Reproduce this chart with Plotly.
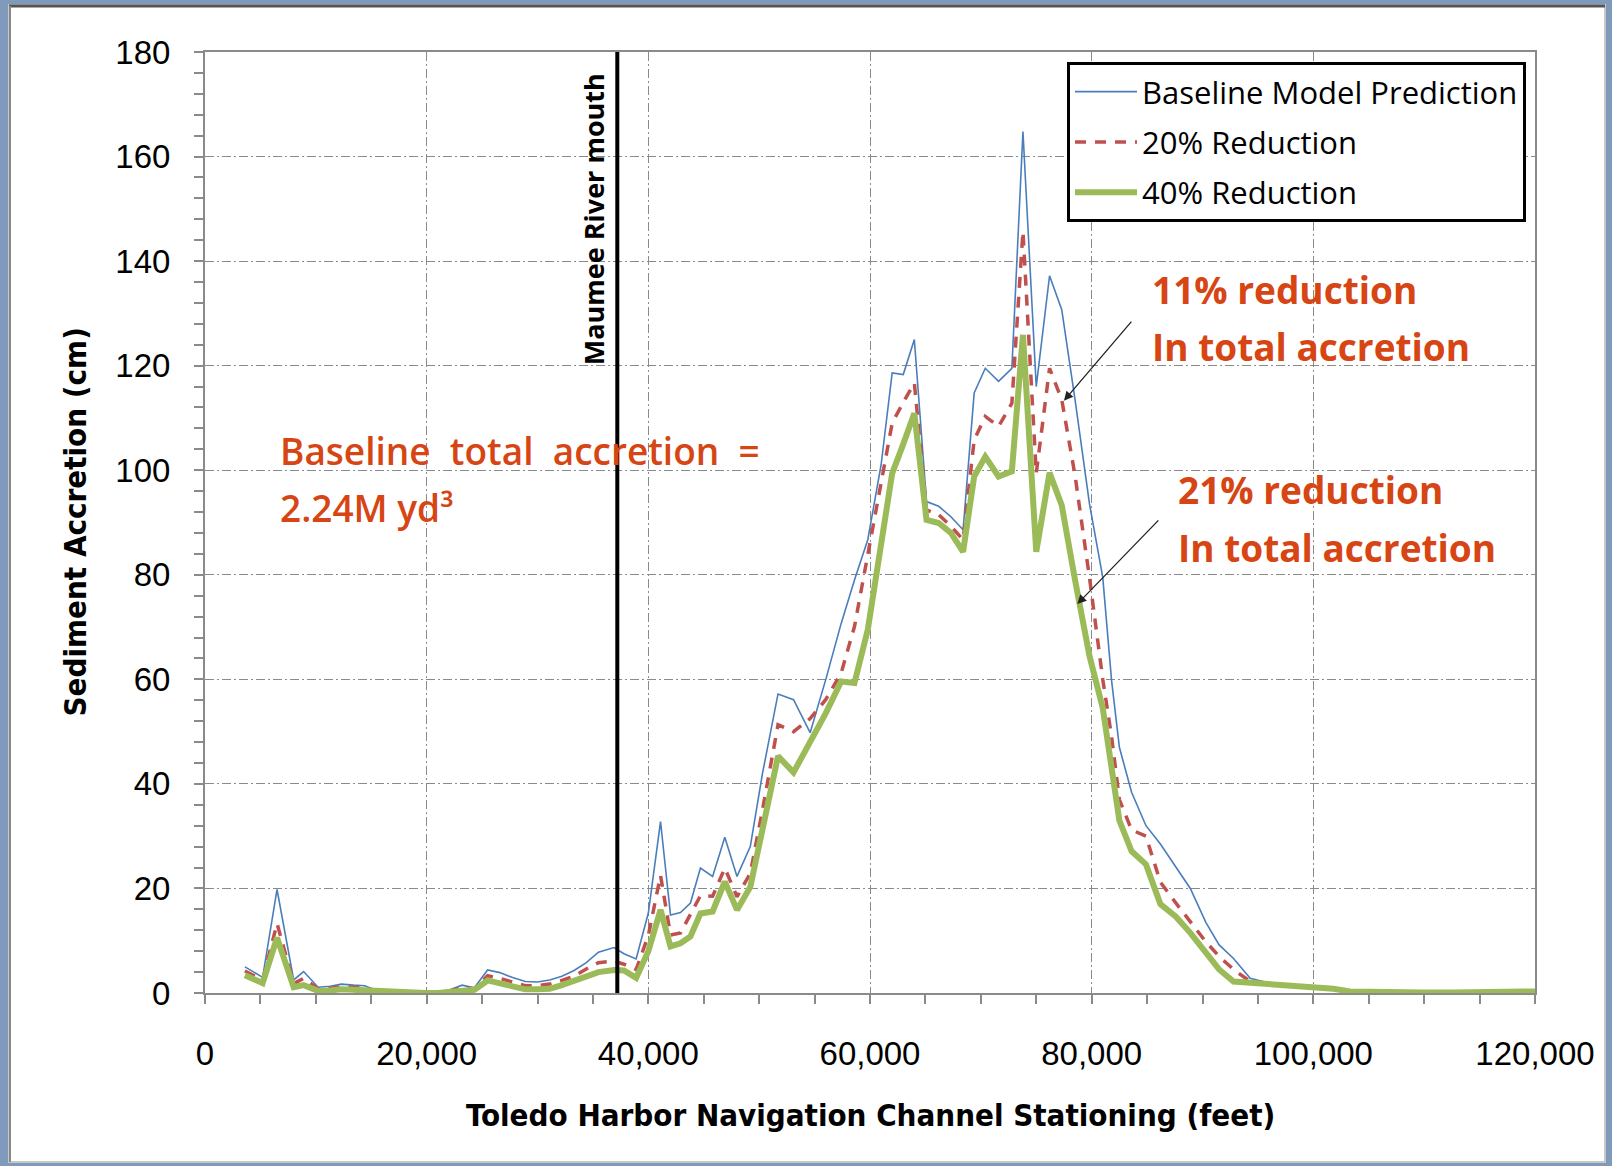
import plotly.graph_objects as go

# ---------------- data ----------------
station_kft = [3.6, 5.2, 6.5, 8.0, 8.9, 10.2, 11.3, 12.3, 13.4, 14.4, 15.5, 16.6, 17.7, 18.8, 19.9,
               21.0, 22.1, 23.2, 24.3, 25.5, 26.6, 27.7, 28.9, 30.0, 31.1, 32.2, 33.3, 34.4, 35.5,
               36.9, 37.8, 38.9, 40.0, 41.1, 42.0, 42.9, 43.8, 44.7, 45.8, 46.9, 48.0, 49.2, 50.3,
               51.7, 53.1, 54.6, 56.0, 57.4, 58.6, 59.8, 61.0, 62.0, 63.0, 64.0, 65.1, 66.2, 67.3,
               68.4, 69.4, 70.4, 71.6, 72.8, 73.8, 75.0, 76.2, 77.3, 78.5, 79.8, 81.0, 81.8, 82.5,
               83.6, 84.9, 86.2, 87.6, 88.9, 90.3, 91.5, 92.8, 94.3, 95.8, 97.3, 98.8, 100.3, 101.8,
               103.3, 105.0, 107.5, 110.0, 112.5, 115.0, 117.5, 120.0]
stationing = [v * 1000 for v in station_kft]

baseline = [5.0, 3.0, 19.8, 2.5, 4.1, 1.1, 1.3, 1.7, 1.5, 1.4, 0.5, 0.5, 0.5, 0.2, 0.0,
            0.1, 0.6, 1.5, 1.0, 4.4, 3.9, 3.0, 2.2, 2.1, 2.5, 3.2, 4.3, 5.8, 7.8,
            8.7, 7.5, 6.5, 15.3, 32.8, 14.9, 15.4, 17.2, 23.9, 22.3, 29.8, 22.3, 28.0, 42.0,
            57.2, 56.1, 49.8, 59.9, 70.7, 79.0, 86.7, 101.0, 118.6, 118.3, 125.0, 94.0, 93.1, 91.1,
            88.6, 114.8, 119.5, 117.0, 119.5, 164.8, 116.0, 137.2, 130.7, 113.5, 93.6, 79.5, 59.7, 47.0,
            38.4, 32.0, 28.5, 24.2, 20.0, 13.5, 9.2, 6.6, 2.8, 2.0, 1.6, 1.2, 1.0, 0.9,
            0.4, 0.3, 0.2, 0.2, 0.1, 0.3, 0.2, 0.4]

reduction20 = [4.2, 2.5, 13.3, 1.8, 2.8, 0.8, 0.9, 1.2, 1.1, 1.0, 0.4, 0.4, 0.3, 0.1, 0.0,
               0.1, 0.4, 1.0, 0.8, 3.3, 2.8, 2.1, 1.4, 1.4, 1.7, 2.4, 3.2, 4.6, 5.8,
               6.1, 5.5, 4.5, 11.0, 22.5, 11.1, 11.5, 15.0, 18.6, 18.5, 23.9, 18.4, 22.9, 35.0,
               51.3, 50.0, 52.5, 56.1, 61.2, 70.1, 84.1, 98.0, 109.0, 113.0, 116.7, 92.4, 91.5, 89.3,
               86.7, 105.8, 110.3, 108.4, 112.8, 145.7, 99.4, 119.5, 113.5, 99.0, 79.5, 60.0, 49.0, 37.0,
               31.2, 30.0, 21.2, 17.2, 13.6, 9.8, 7.0, 4.5, 2.2, 1.9, 1.5, 1.2, 1.0, 0.8,
               0.3, 0.2, 0.2, 0.1, 0.1, 0.2, 0.2, 0.3]

reduction40 = [3.4, 1.9, 10.6, 1.1, 1.5, 0.4, 0.5, 0.7, 0.6, 0.5, 0.2, 0.2, 0.2, 0.1, 0.0,
               0.0, 0.2, 0.6, 0.6, 2.4, 1.8, 1.3, 0.7, 0.7, 0.8, 1.5, 2.4, 3.2, 4.0,
               4.4, 4.3, 2.9, 8.0, 15.9, 8.9, 9.5, 10.8, 15.2, 15.6, 21.3, 15.9, 20.3, 31.0,
               45.3, 42.2, 47.8, 53.5, 59.6, 59.3, 69.5, 86.7, 99.4, 105.0, 110.9, 90.5, 89.9, 88.0,
               84.4, 98.8, 102.6, 98.8, 99.8, 125.9, 84.4, 99.5, 93.3, 79.0, 64.5, 54.5, 42.0, 33.0,
               27.1, 24.6, 17.0, 14.6, 11.5, 7.8, 4.5, 2.2, 2.0, 1.8, 1.5, 1.2, 1.0, 0.8,
               0.3, 0.2, 0.2, 0.1, 0.1, 0.2, 0.2, 0.3]

series_names = ["Baseline Model Prediction", "20% Reduction", "40% Reduction"]
x_tick_vals = [0, 20000, 40000, 60000, 80000, 100000, 120000]
x_tick_text = ["0", "20,000", "40,000", "60,000", "80,000", "100,000", "120,000"]
y_tick_vals = [0, 20, 40, 60, 80, 100, 120, 140, 160, 180]

maumee_x = 37200

# ---------------- layout helpers ----------------
W, H = 1612, 1166
ML, MR, MT, MB = 205, 77, 52, 173
PW, PH = W - ML - MR, H - MT - MB


def px(xp):
    return (xp - ML) / PW


def py(yp):
    return (H - MB - yp) / PH


ORANGE = "#D64513"
TICKFONT = dict(family="Liberation Sans, Arial, sans-serif", size=33, color="#000000")
BOLDNARROW = "Liberation Sans Narrow, DejaVu Sans Condensed, Arial Narrow, sans-serif"
CAL = "Open Sans, Lato, sans-serif"

fig = go.Figure()
fig.add_trace(go.Scatter(x=stationing, y=baseline, name=series_names[0], mode="lines",
                         line=dict(color="#4A7EBB", width=1.6), legendgroup="a"))
fig.add_trace(go.Scatter(x=stationing, y=reduction20, name=series_names[1], mode="lines",
                         line=dict(color="#C0504D", width=3.5, dash="11px,9px"), legendgroup="b"))
fig.add_trace(go.Scatter(x=stationing, y=reduction40, name=series_names[2], mode="lines",
                         line=dict(color="#9BBB59", width=6), legendgroup="c"))

grid = dict(gridcolor="#8a8a8a", gridwidth=1, griddash="9px,3px,2px,3px")

fig.update_xaxes(range=[0, 120000], tickvals=x_tick_vals, ticktext=x_tick_text,
                 showline=True, linecolor="#8a8a8a", linewidth=2, mirror=True,
                 ticks="outside", ticklen=9, tickcolor="#8a8a8a", tickwidth=1.5,
                 minor=dict(dtick=5000, ticks="outside", ticklen=9, tickcolor="#8a8a8a", showgrid=False),
                 tickfont=TICKFONT, ticklabelstandoff=21, zeroline=False, **grid)
fig.update_yaxes(range=[0, 180], tickvals=y_tick_vals,
                 showline=True, linecolor="#8a8a8a", linewidth=2, mirror=True,
                 ticks="outside", ticklen=9, tickcolor="#8a8a8a", tickwidth=1.5,
                 minor=dict(dtick=4, ticks="outside", ticklen=9, tickcolor="#8a8a8a", showgrid=False),
                 tickfont=TICKFONT, ticklabelstandoff=17, zeroline=False, **grid)

shapes = [
    # slide frame
    dict(type="rect", xref="paper", yref="paper", x0=px(0), x1=px(W), y0=py(0), y1=py(H),
         fillcolor="#7f9aba", line_width=0, layer="below"),
    dict(type="rect", xref="paper", yref="paper", x0=px(9), x1=px(1605), y0=py(5), y1=py(1162),
         fillcolor="#ffffff", line=dict(color="#c8c8c8", width=2), layer="below"),
    dict(type="line", xref="paper", yref="paper", x0=px(9), x1=px(1605), y0=py(6), y1=py(6),
         line=dict(color="#555555", width=3), layer="below"),
    dict(type="line", xref="paper", yref="paper", x0=px(10), x1=px(10), y0=py(6), y1=py(1162),
         line=dict(color="#888888", width=2), layer="below"),
    # Maumee River mouth marker
    dict(type="line", xref="x", yref="paper", x0=maumee_x, x1=maumee_x, y0=0, y1=1,
         line=dict(color="#000000", width=4)),
]

annotations = [
    dict(text="Toledo Harbor Navigation Channel Stationing (feet)", xref="paper", yref="paper",
         x=0.5, y=py(1115), showarrow=False, xanchor="center", yanchor="middle",
         font=dict(family=BOLDNARROW, size=31, color="#000000", weight="bold")),
    dict(text="Sediment Accretion (cm)", xref="paper", yref="paper", textangle=-90,
         x=px(74), y=0.5, showarrow=False, xanchor="center", yanchor="middle",
         font=dict(family=BOLDNARROW, size=31, color="#000000", weight="bold")),
    dict(text="Maumee River mouth", xref="x", yref="y", textangle=-90, x=35000, y=148,
         showarrow=False, xanchor="center", yanchor="middle",
         font=dict(family=CAL, size=27, color="#000000", weight="bold")),
    dict(text="Baseline  total  accretion  =", xref="x", yref="y", x=6600, y=103.7,
         showarrow=False, xanchor="left", yanchor="middle",
         font=dict(family=CAL, size=37, color=ORANGE, weight=600)),
    dict(text="2.24M yd³", xref="x", yref="y", x=6600, y=92.8,
         showarrow=False, xanchor="left", yanchor="middle",
         font=dict(family=CAL, size=37, color=ORANGE, weight=600)),
    dict(text="11% reduction", xref="x", yref="y", x=85300, y=134.5,
         showarrow=False, xanchor="left", yanchor="middle",
         font=dict(family=CAL, size=37, color=ORANGE, weight="bold")),
    dict(text="In total accretion", xref="x", yref="y", x=85300, y=123.6,
         showarrow=False, xanchor="left", yanchor="middle",
         font=dict(family=CAL, size=37, color=ORANGE, weight="bold")),
    dict(text="21% reduction", xref="x", yref="y", x=87600, y=96.4,
         showarrow=False, xanchor="left", yanchor="middle",
         font=dict(family=CAL, size=37, color=ORANGE, weight="bold")),
    dict(text="In total accretion", xref="x", yref="y", x=87600, y=85.3,
         showarrow=False, xanchor="left", yanchor="middle",
         font=dict(family=CAL, size=37, color=ORANGE, weight="bold")),
    # arrows
    dict(text="", xref="x", yref="y", axref="x", ayref="y", x=77500, y=113.3, ax=83700, ay=128.7,
         showarrow=True, arrowhead=2, arrowsize=1.4, arrowwidth=1.3, arrowcolor="#222222"),
    dict(text="", xref="x", yref="y", axref="x", ayref="y", x=78700, y=74.4, ax=86150, ay=90.7,
         showarrow=True, arrowhead=2, arrowsize=1.4, arrowwidth=1.3, arrowcolor="#222222"),
]

fig.update_layout(
    width=W, height=H, margin=dict(l=ML, r=MR, t=MT, b=MB, pad=0),
    paper_bgcolor="#ffffff", plot_bgcolor="#ffffff",
    shapes=shapes, annotations=annotations,
    showlegend=True,
    legend=dict(x=px(1067), y=py(62), xanchor="left", yanchor="top",
                bgcolor="#ffffff", bordercolor="#000000", borderwidth=3,
                font=dict(family=CAL, size=31, color="#000000"),
                itemwidth=62, tracegroupgap=7, traceorder="grouped"),
)

fig.write_html("out.html", config={"displayModeBar": False},
               post_script="document.body.style.margin='0px';")
